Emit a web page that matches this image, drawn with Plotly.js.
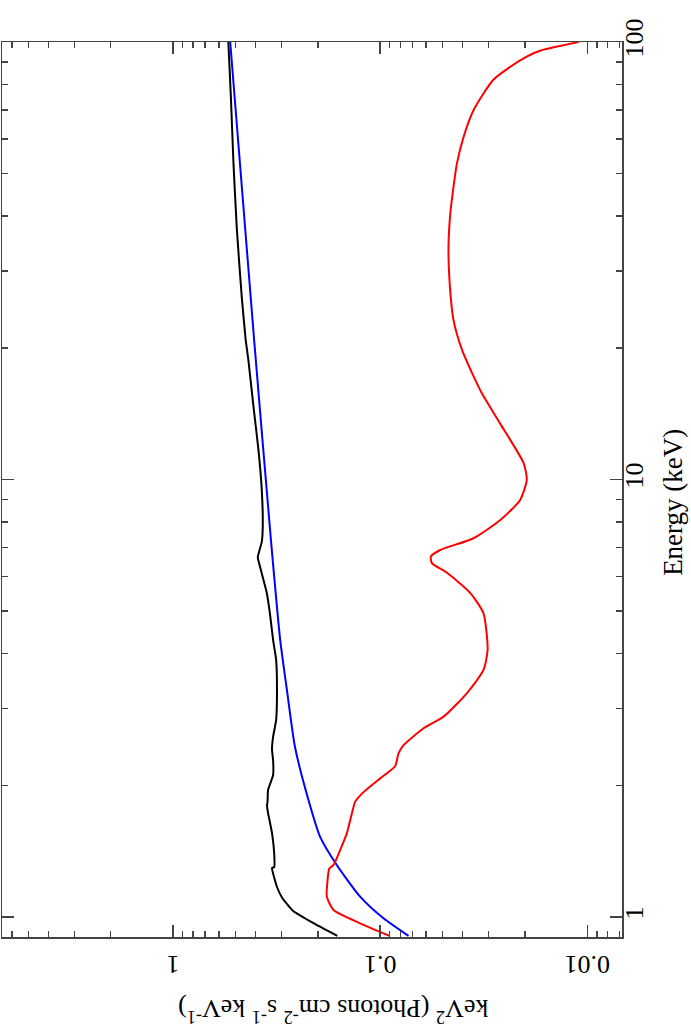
<!DOCTYPE html>
<html>
<head>
<meta charset="utf-8">
<script src="https://cdn.plot.ly/plotly-3.0.1.min.js"></script>
<style>
html,body{margin:0;padding:0;background:#fff;}
#chart{width:691px;height:1035px;}
</style>
</head>
<body>
<div id="chart"></div>
<script>
// Total model (black)
const blackEnergy = [0.905,0.969,1.032,1.105,1.171,1.294,1.30,1.40,1.556,1.729,1.80,1.83,1.95,2.11,2.285,2.41,2.58,2.82,3.30,3.87,4.30,4.90,5.51,6.31,6.64,7.20,7.80,9.46,11.67,14.66,18.75,20.83,26.1,37.2,52.8,74.9,100];
const blackFlux   = [0.161,0.211,0.263,0.297,0.315,0.333,0.325,0.325,0.333,0.348,0.352,0.350,0.348,0.329,0.329,0.333,0.329,0.318,0.315,0.318,0.329,0.340,0.353,0.380,0.390,0.373,0.369,0.373,0.387,0.409,0.433,0.446,0.466,0.492,0.511,0.526,0.541];
// Power-law component (blue)
const blueEnergy = [0.905,0.993,1.113,1.315,1.525,1.851,2.45,3.30,4.30,7.28,20.8,100];
const blueFlux   = [0.073,0.0964,0.125,0.162,0.195,0.222,0.258,0.282,0.304,0.337,0.406,0.53];
// Other component (red)
const redEnergy = [0.905,0.967,1.037,1.113,1.20,1.291,1.315,1.423,1.553,1.725,1.835,1.932,2.074,2.21,2.365,2.47,2.70,2.87,3.25,3.67,4.08,4.94,5.50,6.12,6.44,6.67,6.90,7.34,8.08,8.98,9.98,10.9,13.4,15.74,17.2,19.8,23.2,28.6,34.0,40.4,45.8,52.8,60.6,69.9,82.0,90.8,95.5,100];
const redFlux   = [0.090,0.125,0.168,0.181,0.180,0.176,0.168,0.156,0.145,0.137,0.132,0.120,0.100,0.0847,0.0816,0.0771,0.0617,0.0494,0.0381,0.0317,0.0303,0.0317,0.0367,0.0476,0.0563,0.0569,0.0513,0.0354,0.0263,0.0211,0.0196,0.0203,0.0263,0.0323,0.0354,0.0403,0.0443,0.0463,0.0468,0.0459,0.0445,0.0426,0.0396,0.0354,0.0284,0.0211,0.0169,0.0110];

const fluxTickVals = [0.01,0.1,1];
const fluxTickText = ['0.01','0.1','1'];
const fluxMinorVals = [0.007,0.008,0.009,0.02,0.03,0.04,0.05,0.06,0.07,0.08,0.09,0.2,0.3,0.4,0.5,0.6,0.7,0.8,0.9,2,3,4,5,6];
const energyTickVals = [1,10,100];
const energyTickText = ['1','10','100'];
const energyMinorVals = [2,3,4,5,6,7,8,9,20,30,40,50,60,70,80,90];

const fluxTitle = 'keV<sup>2</sup> (Photons cm<sup>-2</sup> s<sup>-1</sup> keV<sup>-1</sup>)';
const energyTitle = 'Energy (keV)';

const font = 'Liberation Serif, Times New Roman, serif';
const axisCol = '#444';

const traces = [
  {x: blackFlux, y: blackEnergy, mode:'lines', line:{color:'#000000', width:2, shape:'spline', smoothing:0.4}},
  {x: blueFlux, y: blueEnergy, mode:'lines', line:{color:'#0000ff', width:2, shape:'spline', smoothing:0.6}},
  {x: redFlux, y: redEnergy, mode:'lines', line:{color:'#ff0000', width:2, shape:'spline', smoothing:0.6}}
];

const common = {
  type:'log', autorange:false, tickmode:'array',
  ticks:'inside', ticklen:12, tickwidth:1.5, tickcolor:axisCol,
  showline:true, linecolor:axisCol, linewidth:1.5, mirror:'allticks',
  showgrid:false, zeroline:false,
  tickfont:{family:font, size:26, color:'#000'}
};

const layout = {
  width:691, height:1035,
  margin:{l:2, r:69, t:42, b:98, pad:0},
  paper_bgcolor:'#fff', plot_bgcolor:'#fff',
  showlegend:false,
  xaxis: Object.assign({}, common, {
    range:[Math.log10(6.7), Math.log10(0.0068)],
    tickvals: fluxTickVals, ticktext: fluxTickText, tickangle:180,
    ticklabelstandoff: 12,
    minor:{tickmode:'array', tickvals: fluxMinorVals, ticks:'inside', ticklen:6, tickwidth:1.5, tickcolor:axisCol, showgrid:false}
  }),
  yaxis: Object.assign({}, common, {
    side:'right',
    range:[Math.log10(0.9), 2],
    tickvals: energyTickVals, ticktext: energyTickText, tickangle:-90,
    ticklabelstandoff: -12,
    minor:{tickmode:'array', tickvals: energyMinorVals, ticks:'inside', ticklen:6, tickwidth:1.5, tickcolor:axisCol, showgrid:false}
  }),
  annotations:[
    {text: fluxTitle, xref:'paper', yref:'paper', x:0.535, y:-0.082, showarrow:false, textangle:180, xanchor:'center', yanchor:'middle', font:{family:font, size:26, color:'#000'}},
    {text: energyTitle, xref:'paper', yref:'paper', x:1.082, y:0.486, showarrow:false, textangle:-90, xanchor:'center', yanchor:'middle', font:{family:font, size:27, color:'#000'}}
  ]
};

Plotly.newPlot('chart', traces, layout, {displayModeBar:false, staticPlot:true});
</script>
</body>
</html>
